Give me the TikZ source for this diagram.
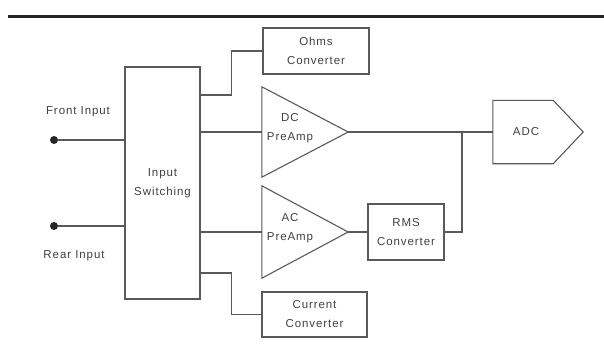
\documentclass[tikz,border=0pt]{standalone}
\usepackage{fontspec}
\setmainfont{Liberation Sans}[LetterSpace=8]
\usepackage{tikz}
\usetikzlibrary{positioning}

\begin{document}
\begin{tikzpicture}[
  x=1pt, y=-1pt,
  every node/.style={font=\fontsize{11.5}{19}\selectfont, align=center, text=black!75},
  block/.style={draw=black!65, line width=1.1pt, inner sep=0pt},
  ampbox/.style={inner sep=0pt, minimum width=86pt, minimum height=90pt},
  wire/.style={draw=black!65, line width=1.1pt},
  terminal/.style={circle, fill=black!85, inner sep=0pt, minimum size=8pt}
]
\useasboundingbox (0,0) rectangle (604,351);
\draw[line width=3pt, black!85] (8,16) -- (604,16);

\node[block, minimum width=75pt, minimum height=232pt] (switch) at (162.5,183) {Input\\Switching};
\node[terminal] (front) at (54,140) {};
\node[terminal] (rear) at (54,226) {};
\node (frontlbl) at (78,112) {Front Input};
\node (rearlbl) at (74,256) {Rear Input};
\node[block, minimum width=106pt, minimum height=46pt] (ohms) at (316,51) {Ohms\\Converter};
\node[ampbox] (dc) at (305,132) {};
\node (dclbl) at (290,128) {DC\\PreAmp};
\node[ampbox, minimum height=92pt] (ac) at (305,232) {};
\node (aclbl) at (290,228) {AC\\PreAmp};
\node[block, minimum width=76pt, minimum height=56pt] (rms) at (406,232) {RMS\\Converter};
\node[block, minimum width=105pt, minimum height=45pt] (current) at (314.5,314.5) {Current\\Converter};
\node[inner sep=0pt, minimum width=90pt, minimum height=63pt] (adc) at (538,132) {};
\node (adclbl) at (526,132) {ADC};
\coordinate (join) at (462,132);

% amplifier and converter outlines
\draw[wire] (dc.north west) -- (dc.east) -- (dc.south west) -- cycle;
\draw[wire] (ac.north west) -- (ac.east) -- (ac.south west) -- cycle;
\draw[wire] (adc.north west) -- ([xshift=-30pt]adc.north east) -- (adc.east)
  -- ([xshift=-30pt]adc.south east) -- (adc.south west) -- cycle;

\draw[wire] (front) -- (front -| switch.west);
\draw[wire] (rear) -- (rear -| switch.west);
\draw[wire] ([yshift=88pt]switch.east) -| ([xshift=-31pt]ohms.west) -- (ohms.west);
\draw[wire] (switch.east |- dc.west) -- (dc.west);
\draw[wire] (switch.east |- ac.west) -- (ac.west);
\draw[wire] ([yshift=-90pt]switch.east) -| ([xshift=-30pt]current.west) -- (current.west);
\draw[wire] (dc.east) -- (adc.west);
\draw[wire] (ac.east) -- (rms.west);
\draw[wire] (rms.east) -| (join);
\end{tikzpicture}
\end{document}
